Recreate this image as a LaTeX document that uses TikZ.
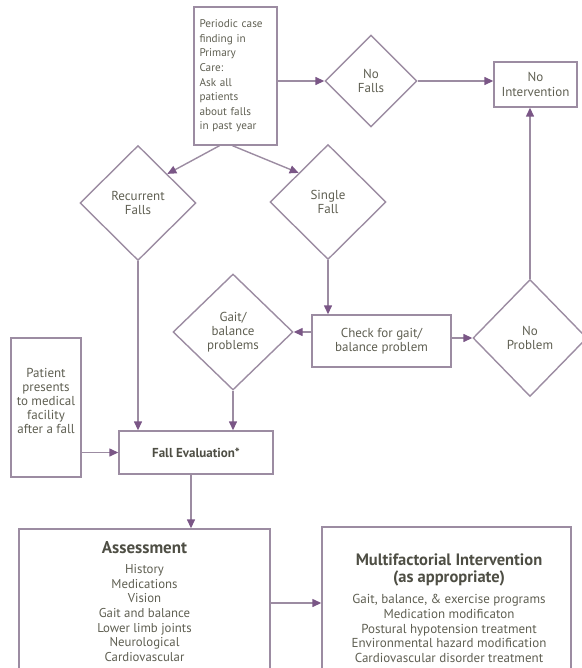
\documentclass[tikz,border=0pt]{standalone}
\usepackage{fontspec}
\setmainfont{PT Sans}
\usetikzlibrary{shapes.geometric,arrows.meta,calc}
\definecolor{ln}{HTML}{9C8CA2}
\definecolor{tipc}{HTML}{7A5686}
\definecolor{tx}{HTML}{5F5F52}
\definecolor{txd}{HTML}{4E4E44}
\begin{document}
\begin{tikzpicture}[x=1pt,y=-1pt,
  every node/.style={text=tx, font=\fontsize{13}{14.2}\selectfont, inner sep=0pt},
  box/.style={draw=ln, line width=1.4pt, align=center},
  dia/.style={draw=ln, line width=1.4pt, diamond, align=center},
  arr/.style={draw=ln, line width=1.4pt, -{Triangle[length=9pt,width=8pt,color=tipc,fill=tipc]}}]
\useasboundingbox (0,0) rectangle (581,668);

% nodes
\node[box, minimum width=83pt, minimum height=138pt, text width=72pt, align=left, font=\fontsize{11.2}{14.6}\selectfont] (pc) at (235.5,76)
  {Periodic case\\finding in\\Primary\\Care:\\Ask all\\patients\\about falls\\in past year};
\node[dia, minimum width=92pt, minimum height=92pt] (nf) at (371,81) {No\\Falls};
\node[box, minimum width=83pt, minimum height=45pt] (ni) at (535.5,84.5) {No\\Intervention};
\node[dia, minimum width=116pt, minimum height=115pt] (rf) at (138,203) {Recurrent\\Falls};
\node[dia, minimum width=116pt, minimum height=115pt] (sf) at (328,202) {Single\\Fall};
\node[dia, minimum width=120pt, minimum height=116pt] (gb) at (233,332) {Gait/\\balance\\problems};
\node[box, minimum width=139pt, minimum height=52pt] (cg) at (381.5,341) {Check for gait/\\balance problem};
\node[dia, minimum width=114pt, minimum height=117pt] (np) at (530,338) {No\\Problem};
\node[box, minimum width=70pt, minimum height=139pt] (pp) at (46,407.5) {};
\node[align=center] (ppt) at (46,401) {Patient\\presents\\to medical\\facility\\after a fall};
\node[box, minimum width=154pt, minimum height=43pt, font=\fontsize{13}{14}\selectfont\bfseries, text=txd] (fe) at (196,452.5) {Fall Evaluation*};
\node[box, minimum width=251pt, minimum height=170pt] (as) at (144.5,614) {};
\node[text=txd, font=\fontsize{17}{18}\selectfont\bfseries] (ash) at (144.5,548) {Assessment};
\node[align=center, font=\fontsize{12.8}{14.7}\selectfont] (asl) at (144.5,613) {History\\Medications\\Vision\\Gait and balance\\Lower limb joints\\Neurological\\Cardiovascular};
\node[box, minimum width=249pt, minimum height=170pt] (mi) at (446.5,612) {};
\node[align=center, text=txd, font=\fontsize{16.5}{16.5}\selectfont\bfseries] (mih) at (449,570) {Multifactorial Intervention\\(as appropriate)};
\node[align=center, font=\fontsize{13}{14.75}\selectfont] (mil) at (449,628.5) {Gait, balance, \& exercise programs\\Medication modificaton\\Postural hypotension treatment\\Environmental hazard modification\\Cardiovascular disorder treatment};
\coordinate (ae) at (270,603);

% connectors
\draw[arr] (pc.east |- nf.west) -- (nf.west);
\draw[arr] (nf.east) -- (nf.east -| ni.west);
\draw[arr] ($(pc.south)+(-16,0)$) -- (rf.north east);
\draw[arr] ($(pc.south)+(-3,0)$) -- (sf.north west);
\draw[arr] (rf.south) -- (rf.south |- fe.north);
\draw[arr] (sf.south) -- (sf.south |- cg.north);
\draw[arr] (cg.west |- gb.east) -- (gb.east);
\draw[arr] (cg.east |- np.west) -- (np.west);
\draw[arr] (np.north) -- (np.north |- ni.south);
\draw[arr] (gb.south) -- (gb.south |- fe.north);
\draw[arr] (pp.east |- fe.west) -- (fe.west);
\draw[arr] ($(fe.south)+(-5,0)$) -- ($(fe.south |- as.north)+(-5,0)$);
\draw[arr] (ae) -- (ae -| mi.west);
\end{tikzpicture}
\end{document}
